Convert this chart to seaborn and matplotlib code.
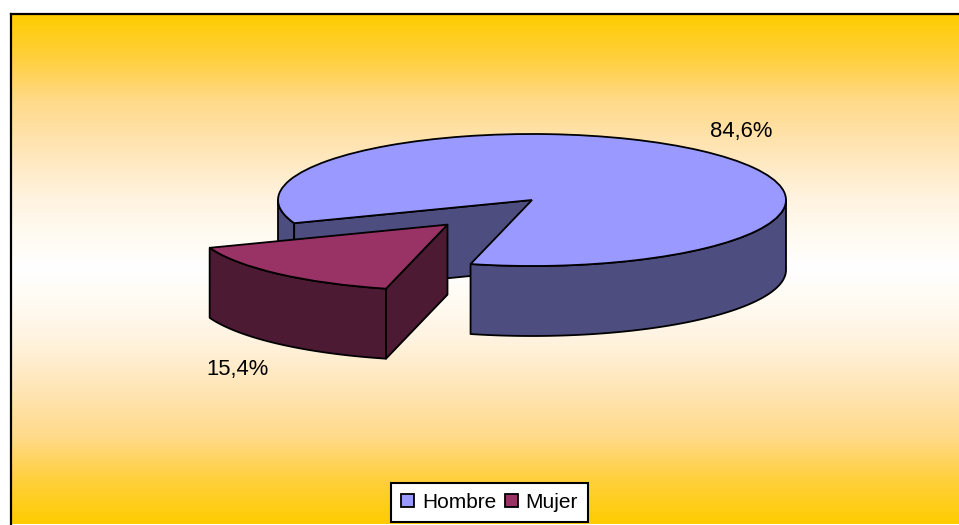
import numpy as np
import matplotlib
matplotlib.use("Agg")
import matplotlib.pyplot as plt
from matplotlib.colors import LinearSegmentedColormap
import seaborn as sns

categories = ["Hombre", "Mujer"]
shares = [84.6, 15.4]
top_colors = ["#9999FF", "#993366"]
wall_colors = ["#4D4D80", "#4D1A33"]

sns.set_theme(style="white")
plt.rcParams["font.family"] = ["Liberation Sans", "DejaVu Sans"]

W, H = 959, 525
fig = plt.figure(figsize=(W / 100, H / 100), dpi=100, facecolor="white")


def box(x0, y0, x1, y1):
    return [x0 / W, 1 - y1 / H, (x1 - x0) / W, (y1 - y0) / H]


# gradient chart area: pale band in the middle, saturated at both edges
bg = fig.add_axes(box(11, 14, 962, 524), zorder=0)
half_stops = [(0.00, "#FFCC00"), (0.09, "#FFD040"), (0.17, "#FFDA8A"), (0.25, "#FFE4B0"),
              (0.31, "#FFECCB"), (0.37, "#FFF4E2"), (0.44, "#FFFBF3"), (0.50, "#FFFFFF")]
stops = half_stops + [(1 - p, c) for p, c in reversed(half_stops[:-1])]
cmap = LinearSegmentedColormap.from_list("band", stops, N=512)
bg.imshow(np.linspace(0, 1, 510)[:, None], aspect="auto", cmap=cmap, vmin=0, vmax=1)
bg.set_xticks([])
bg.set_yticks([])
for side, sp in bg.spines.items():
    sp.set_visible(side in ("top", "left"))
    sp.set_color("black")
    sp.set_linewidth(1.6)

# pie axes, squashed to give the tilted look
ax = fig.add_axes([0, 0, 1, 1], zorder=1)
ax.patch.set_alpha(0)
CX, CY, RX, RY = 532, 200, 254, 66
DEPTH = 70 / RY
wedges, _ = ax.pie(
    shares,
    explode=[0, 0.5],
    startangle=256,
    colors=top_colors,
    wedgeprops={"edgecolor": "black", "linewidth": 1.3},
)
ax.set_aspect("auto")
ax.set_xlim((0 - CX) / RX, (W - CX) / RX)
ax.set_ylim((CY - H) / RY, CY / RY)
ax.axis("off")

EDGE = {"edgecolor": "black", "linewidth": 1.3, "joinstyle": "round"}


def arc_wall(w, a0, a1, color, z):
    t = np.radians(np.linspace(a0, a1, 80))
    cx, cy = w.center
    x = cx + w.r * np.cos(t)
    y = cy + w.r * np.sin(t)
    ax.fill(np.r_[x, x[::-1]], np.r_[y, y[::-1] - DEPTH], facecolor=color, zorder=z, **EDGE)


def cut_wall(w, a, color, z):
    cx, cy = w.center
    x = cx + w.r * np.cos(np.radians(a))
    y = cy + w.r * np.sin(np.radians(a))
    ax.fill([cx, x, x, cx], [cy, y, y - DEPTH, cy - DEPTH], facecolor=color, zorder=z, **EDGE)


hombre, mujer = wedges
# Hombre: theta1 = front cut, theta2 = left cut (beyond 360 deg)
h_start, h_end = hombre.theta1, hombre.theta2
arc_wall(hombre, 180, h_end - 360, wall_colors[0], 2)
cut_wall(hombre, h_end, wall_colors[0], 3)
arc_wall(hombre, h_start, 360, wall_colors[0], 3)
hombre.set_zorder(4)
# Mujer
arc_wall(mujer, mujer.theta1, mujer.theta2, wall_colors[1], 5)
cut_wall(mujer, mujer.theta2, wall_colors[1], 5)
mujer.set_zorder(6)

# value labels
label_pos = [(741, 131), (237, 369)]
for s, (px, py) in zip(shares, label_pos):
    fig.text(px / W, 1 - py / H, f"{s:.1f}%".replace(".", ","), ha="center", va="center",
             fontsize=15.8, color="black", zorder=5)

leg = fig.legend(
    wedges, categories,
    loc="center", bbox_to_anchor=(489.5 / W, 1 - 502.5 / H),
    ncol=2, fontsize=15.0, frameon=True, fancybox=False, framealpha=1,
    facecolor="white", edgecolor="black",
    handlelength=0.62, handleheight=0.62, handletextpad=0.38, columnspacing=0.42,
    borderpad=0.46, borderaxespad=0,
)
leg.get_frame().set_linewidth(1.5)
leg.set_zorder(7)
for t in leg.get_texts():
    t.set_color("black")

fig.savefig("out.png", dpi=100)
